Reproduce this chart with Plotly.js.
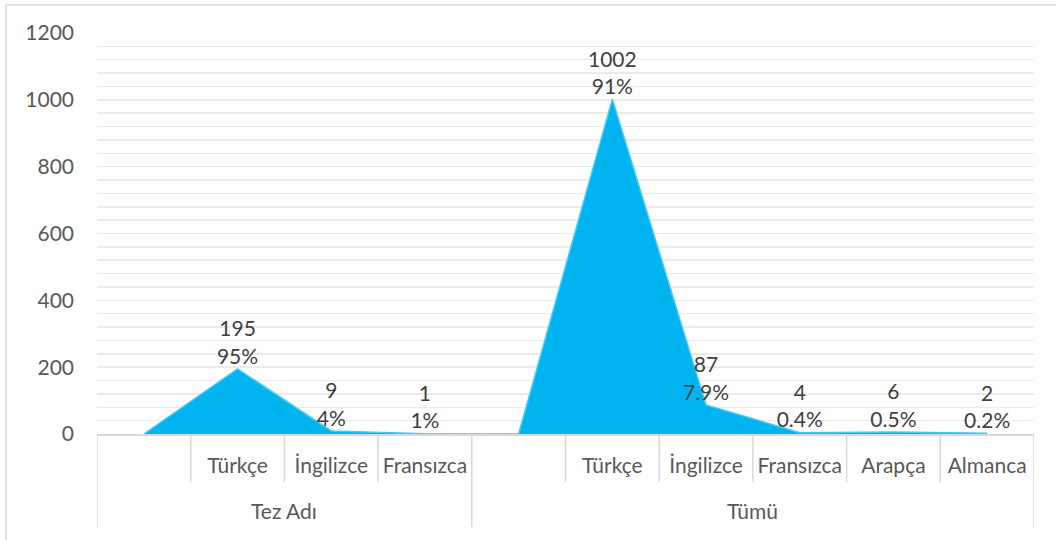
<!DOCTYPE html>
<html>
<head>
<meta charset="utf-8">
<script src="https://cdn.plot.ly/plotly-3.0.1.min.js"></script>
<style>html,body{margin:0;padding:0;background:#fff;}#chart{width:1056px;height:540px;}</style>
</head>
<body>
<div id="chart"></div>
<script>
const groups = ["Tez Adı","Tez Adı","Tez Adı","Tez Adı","Tümü","Tümü","Tümü","Tümü","Tümü","Tümü"];
const categories = ["","Türkçe","İngilizce","Fransızca","","Türkçe","İngilizce","Fransızca","Arapça","Almanca"];
const counts = [0,195,9,1,0,1002,87,4,6,2];
const percents = ["","95%","4%","1%","","91%","7.9%","0.4%","0.5%","0.2%"];
const yTicks = [0,200,400,600,800,1000,1200];

const FONT = "Lato, 'Open Sans', sans-serif";
const FS = 21;
const xIdx = counts.map((_, i) => i);
const labels = counts.map((c, i) => percents[i] ? c + "<br>" + percents[i] : "");

const trace = {
  type: "scatter",
  x: xIdx,
  y: counts,
  mode: "lines+text",
  fill: "tozeroy",
  fillcolor: "#00b4f0",
  line: {color: "#45c9f4", width: 1.5},
  text: labels,
  textposition: "top center",
  textfont: {family: FONT, size: FS, color: "#404040"},
  hoverinfo: "skip",
  cliponaxis: false
};

// separators and group labels derived from the category arrays
const GRAY = "#d9d9d9";
const shortBottom = -48 / 401;
const fullBottom = -93 / 401;
const shapes = [];
const annotations = [];
for (let i = 0; i <= categories.length; i++) {
  const isGroupEdge = i === 0 || i === categories.length || groups[i] !== groups[i - 1];
  shapes.push({type: "line", xref: "x", yref: "paper", x0: i - 0.5, x1: i - 0.5, y0: 0, y1: isGroupEdge ? fullBottom : shortBottom, line: {color: GRAY, width: 1.5}});
}
const uniqueGroups = [...new Set(groups)];
uniqueGroups.forEach(g => {
  const first = groups.indexOf(g), last = groups.lastIndexOf(g);
  annotations.push({xref: "x", yref: "paper", x: (first + last) / 2, y: -(510 - 434) / 401, text: g, showarrow: false, xanchor: "center", yanchor: "middle", font: {family: FONT, size: FS, color: "#595959"}});
});
// chart border
shapes.push({type: "rect", xref: "paper", yref: "paper", x0: -0.0971, x1: 1.2, y0: -0.4, y1: 1.07, line: {color: GRAY, width: 1.5}, fillcolor: "rgba(0,0,0,0)", layer: "below"});

const layout = {
  width: 1056, height: 540,
  margin: {l: 97, r: 22, t: 33, b: 106},
  paper_bgcolor: "#ffffff",
  plot_bgcolor: "#ffffff",
  showlegend: false,
  font: {family: FONT, size: FS, color: "#595959"},
  xaxis: {
    range: [-0.5, categories.length - 0.5],
    tickvals: xIdx,
    ticktext: categories,
    ticks: "",
    ticklabelstandoff: 12,
    showline: true,
    linecolor: GRAY,
    linewidth: 1.5,
    showgrid: false,
    zeroline: false,
    tickfont: {family: FONT, size: FS, color: "#595959"}
  },
  yaxis: {
    range: [0, 1200],
    tickvals: yTicks,
    ticktext: yTicks.map(String),
    showgrid: true,
    gridcolor: "#ebebeb",
    gridwidth: 1.5,
    minor: {dtick: 40, showgrid: true, gridcolor: "#ebebeb", gridwidth: 1.5},
    zeroline: false,
    showline: false,
    ticks: "",
    ticklabelstandoff: 22,
    tickfont: {family: FONT, size: FS, color: "#595959"}
  },
  shapes: shapes,
  annotations: annotations
};

Plotly.newPlot("chart", [trace], layout, {displayModeBar: false, staticPlot: true});
</script>
</body>
</html>
